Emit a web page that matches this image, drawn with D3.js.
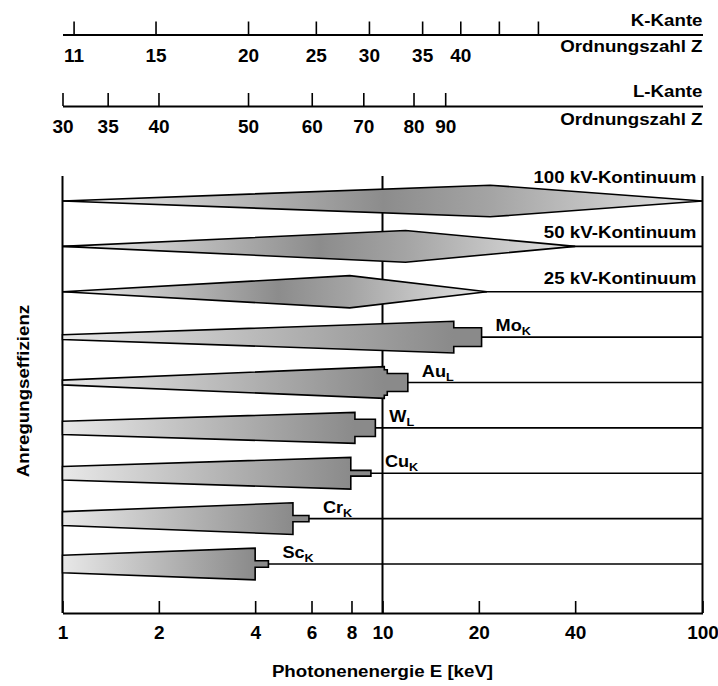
<!DOCTYPE html>
<html><head><meta charset="utf-8">
<script src="https://cdn.jsdelivr.net/npm/d3@7"></script>
<style>
body{margin:0;background:#fff}
svg{display:block}
text{font-family:"Liberation Sans",Arial,sans-serif;font-weight:bold;fill:#000}
</style></head>
<body><svg id="c" width="718" height="686"></svg>
<script>
// ---------- data ----------
const energyTicks = [1, 2, 4, 6, 8, 10, 20, 40, 100];          // keV
const frameEnergies = [1, 10, 100];
const kZ = ["11","15","20","25","30","35","40","",""];          // K-edge Z labels
const kEdgeE = [1.083, 1.953, 3.80, 6.19, 9.07, 13.3, 17.5, 23.1, 30.6];
const lZ = ["30","35","40","50","60","70","80","90"];           // L-edge Z labels
const lEdgeE = [1.0, 1.384, 1.995, 3.80, 6.01, 8.71, 12.5, 15.7];

const contNames = ["100 kV-Kontinuum", "50 kV-Kontinuum", "25 kV-Kontinuum"];
const contPeakE = [21.7, 11.8, 7.9];
const contEndE  = [100, 40, 21.2];
const contPeakEff = [1.0, 1.0, 1.02];

const anodes    = ["Mo", "Au", "W", "Cu", "Cr", "Sc"];
const anodeSub  = ["K", "L", "L", "K", "K", "K"];
const anodeStartEff = [0.15, 0.15, 0.42, 0.43, 0.44, 0.55];
const anodeWedgeE   = [16.7, 10.13, 8.2, 7.96, 5.25, 4.0];
const anodeWedgeEff = [1.0, 1.0, 0.98, 1.0, 1.0, 1.0];
const anodeLineE    = [[20.4], [10.35, 12.0], [9.5], [9.2], [5.89], [4.4]];
const anodeLineEff  = [[0.59], [0.81, 0.57], [0.55], [0.18], [0.2], [0.21]];

// ---------- scales ----------
const svg = d3.select("#c");
const x = d3.scaleLog().domain([1, 100]).range([62.5, 702.5]);
const rowKeys = contNames.concat(anodes);
const y = d3.scalePoint().domain(rowKeys).range([201, 564]);
const h = d3.scaleLinear().domain([0, 1]).range([0, 15.8]);
const SX = 1.1;
const plotTop = 176, axisY = 613;

function label(g, tx, ty, str, size, anchor, rot) {
  const t = g.append("text")
    .attr("transform", `translate(${tx},${ty})${rot ? " rotate(" + rot + ")" : ""} scale(${SX},1)`)
    .attr("text-anchor", anchor || "start")
    .style("font-size", size + "px")
    .text(str);
  return t;
}

const defs = svg.append("defs");

// ---------- grid / frame ----------
svg.append("g").selectAll("line").data(frameEnergies).join("line")
  .attr("x1", d => x(d)).attr("x2", d => x(d))
  .attr("y1", plotTop).attr("y2", axisY)
  .attr("stroke", "#000").attr("stroke-width", 2);

// baselines
svg.append("g").selectAll("line").data(rowKeys).join("line")
  .attr("x1", x(1)).attr("x2", x(100))
  .attr("y1", d => y(d)).attr("y2", d => y(d))
  .attr("stroke", "#000").attr("stroke-width", 1.6);

// ---------- continua ----------
contNames.forEach((n, i) => {
  const gid = "gc" + i;
  const x0 = x(1), x1 = x(contEndE[i]);
  const fp = (x(contPeakE[i]) - x0) / (x1 - x0);
  const gr = defs.append("linearGradient").attr("id", gid)
    .attr("gradientUnits", "userSpaceOnUse")
    .attr("x1", x0).attr("x2", x1).attr("y1", 0).attr("y2", 0);
  gr.append("stop").attr("offset", 0).attr("stop-color", "#eeeeee");
  gr.append("stop").attr("offset", fp * 0.75).attr("stop-color", "#8c8c8c");
  gr.append("stop").attr("offset", fp).attr("stop-color", "#a4a4a4");
  gr.append("stop").attr("offset", 1).attr("stop-color", "#e4e4e4");
  const yc = y(n);
  const pts = [[x(1), yc], [x(contPeakE[i]), yc - h(contPeakEff[i])],
               [x(contEndE[i]), yc], [x(contPeakE[i]), yc + h(contPeakEff[i])]];
  svg.append("polygon").attr("points", pts.map(p => p.join(",")).join(" "))
    .attr("fill", `url(#${gid})`).attr("stroke", "#000").attr("stroke-width", 1.6)
    .attr("stroke-linejoin", "miter");
  const ly = contEndE[i] >= 100 ? yc - h(contPeakEff[i]) - 2 : yc - 8;
  label(svg, x(100) - 6, ly, n, 17, "end");
});

// ---------- anodes ----------
anodes.forEach((a, i) => {
  const gid = "ga" + i;
  const gr = defs.append("linearGradient").attr("id", gid)
    .attr("gradientUnits", "userSpaceOnUse")
    .attr("x1", x(1)).attr("x2", x(anodeWedgeE[i])).attr("y1", 0).attr("y2", 0);
  gr.append("stop").attr("offset", 0).attr("stop-color", "#e8e8e8");
  gr.append("stop").attr("offset", 1).attr("stop-color", "#8a8a8a");
  const yc = y(a);
  const top = [[x(1), yc - h(anodeStartEff[i])], [x(anodeWedgeE[i]), yc - h(anodeWedgeEff[i])]];
  let prev = anodeWedgeE[i];
  anodeLineE[i].forEach((e, j) => {
    top.push([x(prev), yc - h(anodeLineEff[i][j])]);
    top.push([x(e), yc - h(anodeLineEff[i][j])]);
    prev = e;
  });
  const bottom = top.map(p => [p[0], 2 * yc - p[1]]).reverse();
  const pts = top.concat(bottom);
  svg.append("polygon").attr("points", pts.map(p => p.join(",")).join(" "))
    .attr("fill", `url(#${gid})`).attr("stroke", "#000").attr("stroke-width", 1.6);
  const endE = anodeLineE[i][anodeLineE[i].length - 1];
  const t = label(svg, x(endE) + 14, yc - 6, "", 16.5, "start");
  t.append("tspan").text(a);
  t.append("tspan").attr("dy", 4).style("font-size", "11.5px").text(anodeSub[i]);
});

// ---------- axes ----------
function styleAxis(g, size) {
  g.attr("font-family", null).attr("font-size", null);
  g.select(".domain").attr("stroke", "#000").attr("stroke-width", 2);
  g.selectAll(".tick line").attr("stroke", "#000").attr("stroke-width", 1.6);
  g.selectAll(".tick text").style("font-size", size + "px");
}

const kAxisY = 34.5, lAxisY = 106;
const gk = svg.append("g").attr("transform", `translate(0,${kAxisY})`)
  .call(d3.axisBottom(x).tickValues(kEdgeE).tickFormat((d, i) => kZ[i])
    .tickSizeInner(-13).tickSizeOuter(0).tickPadding(14));
styleAxis(gk, 19);
const gl = svg.append("g").attr("transform", `translate(0,${lAxisY})`)
  .call(d3.axisBottom(x).tickValues(lEdgeE).tickFormat((d, i) => lZ[i])
    .tickSizeInner(-13).tickSizeOuter(0).tickPadding(14));
styleAxis(gl, 19);
const gb = svg.append("g").attr("transform", `translate(0,${axisY})`)
  .call(d3.axisBottom(x).tickValues(energyTicks).tickFormat(d3.format("d"))
    .tickSizeInner(-12).tickSizeOuter(0).tickPadding(13));
styleAxis(gb, 19);

// ---------- titles ----------
label(svg, x(100), 26, "K-Kante", 17, "end");
label(svg, x(100), 52, "Ordnungszahl Z", 17, "end");
label(svg, x(100), 97, "L-Kante", 17, "end");
label(svg, x(100), 125, "Ordnungszahl Z", 17, "end");
label(svg, x(10), 677, "Photonenenergie E [keV]", 17, "middle");
label(svg, 29, 391, "Anregungseffizienz", 17, "middle", -90);
</script></body></html>
